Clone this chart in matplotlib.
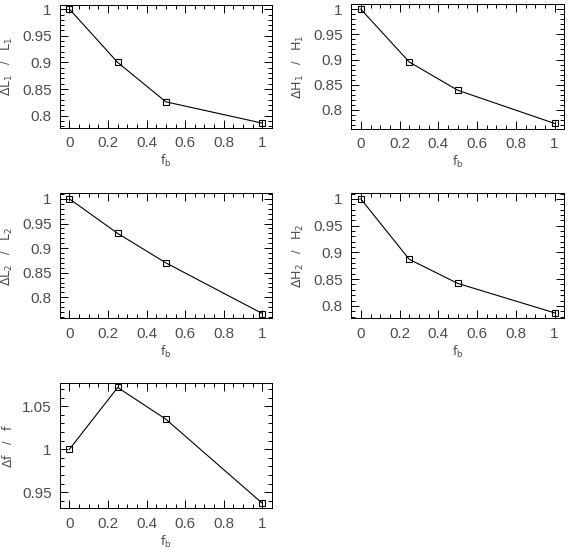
import matplotlib
matplotlib.use("Agg")
import matplotlib.pyplot as plt
from matplotlib.ticker import MultipleLocator

# Data: bulge fraction and the normalised quantities
fb = [0, 0.25, 0.5, 1]
dL1 = [1.0, 0.9, 0.826, 0.786]
dH1 = [1.0, 0.895, 0.839, 0.773]
dL2 = [1.0, 0.930, 0.870, 0.767]
dH2 = [1.0, 0.887, 0.842, 0.787]
df = [1.0, 1.072, 1.035, 0.937]

ylabels = [r"$\Delta\mathrm{L}_1$   /   $\mathrm{L}_1$",
           r"$\Delta\mathrm{H}_1$   /   $\mathrm{H}_1$",
           r"$\Delta\mathrm{L}_2$   /   $\mathrm{L}_2$",
           r"$\Delta\mathrm{H}_2$   /   $\mathrm{H}_2$",
           r"$\Delta\mathrm{f}$   /   $\mathrm{f}$"]
series = [dL1, dH1, dL2, dH2, df]
ylims = [(0.777, 1.008), (0.762, 1.0105), (0.757, 1.0116),
         (0.7766, 1.0105), (0.931, 1.077)]

font = "Liberation Sans Narrow"
plt.rcParams["font.family"] = [font, "Liberation Sans", "DejaVu Sans"]
plt.rcParams["mathtext.fontset"] = "custom"
plt.rcParams["mathtext.rm"] = font
plt.rcParams["mathtext.it"] = font

fig = plt.figure(figsize=(5.7, 5.49), dpi=100)

# axes rectangles in figure fraction
boxes = [(0.105, 0.767, 0.372, 0.224),
         (0.616, 0.765, 0.374, 0.228),
         (0.105, 0.420, 0.372, 0.228),
         (0.616, 0.420, 0.374, 0.228),
         (0.105, 0.074, 0.372, 0.228)]

txt = "0.3"
for box, y, lab, yl in zip(boxes, series, ylabels, ylims):
    ax = fig.add_axes(box)
    ax.plot(fb, y, color="black", lw=0.8, marker="s", ms=4,
            mfc="none", mec="black", mew=0.8)
    ax.set_xlim(-0.05, 1.05)
    ax.set_ylim(*yl)
    ax.xaxis.set_major_locator(MultipleLocator(0.2))
    ax.xaxis.set_minor_locator(MultipleLocator(0.05))
    ax.yaxis.set_major_locator(MultipleLocator(0.05))
    ax.yaxis.set_minor_locator(MultipleLocator(0.01))
    ax.xaxis.set_major_formatter(plt.FuncFormatter(lambda v, p: f"{v:g}"))
    ax.yaxis.set_major_formatter(plt.FuncFormatter(lambda v, p: f"{v:g}"))
    ax.tick_params(which="both", direction="in", top=True, right=True,
                   labelsize=11, labelcolor=txt, width=0.7, pad=6)
    ax.tick_params(which="major", length=6)
    ax.tick_params(which="minor", length=3)
    for s in ax.spines.values():
        s.set_linewidth(0.7)
    ax.set_xlabel(r"$\mathrm{f}_\mathrm{b}$", fontsize=9, color=txt)
    ax.set_ylabel(lab, fontsize=9, color=txt)
    ax.xaxis.set_label_coords(0.5, -0.2)
    ax.yaxis.set_label_coords(-0.21, 0.5)

plt.savefig("out.png", dpi=100)
